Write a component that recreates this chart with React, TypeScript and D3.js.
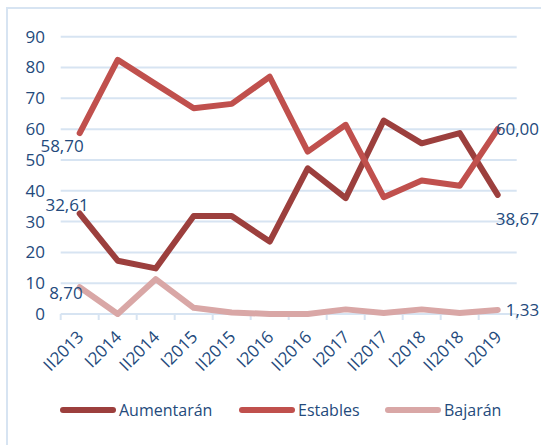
import { useEffect, useRef } from "react"
import * as d3 from "d3"

const categories = ["II2013", "I2014", "II2014", "I2015", "II2015", "I2016", "II2016", "I2017", "II2017", "I2018", "II2018", "I2019"]
const aumentaran = [32.61, 17.3, 14.8, 31.8, 31.8, 23.5, 47.3, 37.6, 62.8, 55.4, 58.7, 38.67]
const estables = [58.7, 82.5, 74.6, 66.8, 68.2, 77.0, 52.7, 61.4, 37.9, 43.3, 41.6, 60.0]
const bajaran = [8.7, 0, 11.3, 2.0, 0.5, 0, 0, 1.5, 0.3, 1.5, 0.3, 1.33]
const yTicks = [0, 10, 20, 30, 40, 50, 60, 70, 80, 90]

const series = [
  { name: "Aumentarán", values: aumentaran, color: "#9c3f3d" },
  { name: "Estables", values: estables, color: "#c0504d" },
  { name: "Bajarán", values: bajaran, color: "#d9a7a6" },
]

const textColor = "#244a7c"
const gridColor = "#d7e4f2"
const font = "'Open Sans', sans-serif"

export default function App() {
  const svgRef = useRef<SVGSVGElement>(null)

  useEffect(() => {
    document.body.style.margin = "0"
    if (!svgRef.current) return
    const svg = d3.select(svgRef.current)
    svg.selectAll("*").remove()

    const left = 60.7
    const right = 516.7
    const top = 36.7
    const bottom = 314

    const x = d3.scaleBand<string>().domain(categories).range([left, right])
    const y = d3.scaleLinear().domain([0, 90]).range([bottom, top])
    const cx = (i: number) => (x(categories[i]) as number) + x.bandwidth() / 2

    svg.append("rect").attr("width", 541).attr("height", 445).attr("fill", "white")

    // chart frame
    svg.append("rect")
      .attr("x", 7).attr("y", 8).attr("width", 700).attr("height", 700)
      .attr("fill", "none").attr("stroke", gridColor).attr("stroke-width", 2)

    // grid
    svg.append("g")
      .selectAll("line")
      .data(yTicks.filter((t) => t > 0))
      .join("line")
      .attr("x1", left).attr("x2", right)
      .attr("y1", (d) => y(d)).attr("y2", (d) => y(d))
      .attr("stroke", gridColor).attr("stroke-width", 2)

    // y labels
    svg.append("g")
      .selectAll("text")
      .data(yTicks)
      .join("text")
      .attr("x", 45).attr("y", (d) => y(d))
      .attr("dy", "0.35em")
      .attr("text-anchor", "end")
      .attr("fill", textColor)
      .style("font-family", font).style("font-size", "17px")
      .text((d) => d)

    // x axis
    const xAxis = svg.append("g")
    xAxis.append("line")
      .attr("x1", left).attr("x2", right).attr("y1", bottom).attr("y2", bottom)
      .attr("stroke", gridColor).attr("stroke-width", 2)
    xAxis.selectAll("line.tick")
      .data(d3.range(categories.length + 1))
      .join("line")
      .attr("class", "tick")
      .attr("x1", (i) => left + i * x.step()).attr("x2", (i) => left + i * x.step())
      .attr("y1", bottom).attr("y2", bottom + 6)
      .attr("stroke", gridColor).attr("stroke-width", 2)
    xAxis.selectAll("text")
      .data(categories)
      .join("text")
      .attr("transform", (d, i) => `translate(${cx(i) + 5},${bottom + 24}) rotate(-45)`)
      .attr("text-anchor", "end")
      .attr("fill", textColor)
      .style("font-family", font).style("font-size", "17px")
      .text((d) => d)

    // lines
    const line = d3.line<number>()
      .x((d, i) => cx(i))
      .y((d) => y(d))

    series.forEach((s) => {
      svg.append("path")
        .datum(s.values)
        .attr("d", line)
        .attr("fill", "none")
        .attr("stroke", s.color)
        .attr("stroke-width", 6)
        .attr("stroke-linejoin", "round")
        .attr("stroke-linecap", "round")
    })

    // data labels on first and last points
    const fmt = (v: number) => v.toFixed(2).replace(".", ",")
    const labels = [
      { s: 0, i: 0, dx: 9, dy: -3, anchor: "end" },
      { s: 1, i: 0, dx: 4, dy: 19, anchor: "end" },
      { s: 2, i: 0, dx: 3, dy: 12, anchor: "end" },
      { s: 0, i: 11, dx: -2, dy: 30, anchor: "start" },
      { s: 1, i: 11, dx: -2, dy: 6, anchor: "start" },
      { s: 2, i: 11, dx: 8, dy: 6, anchor: "start" },
    ]
    svg.append("g")
      .selectAll("text")
      .data(labels)
      .join("text")
      .attr("x", (d) => cx(d.i) + d.dx)
      .attr("y", (d) => y(series[d.s].values[d.i]) + d.dy)
      .attr("text-anchor", (d) => d.anchor)
      .attr("fill", textColor)
      .style("font-family", font).style("font-size", "17px")
      .text((d) => fmt(series[d.s].values[d.i]))

    // legend
    const legendX = [60, 239, 385]
    const lg = svg.append("g")
    series.forEach((s, k) => {
      lg.append("line")
        .attr("x1", legendX[k] + 3).attr("x2", legendX[k] + 53)
        .attr("y1", 410).attr("y2", 410)
        .attr("stroke", s.color).attr("stroke-width", 6).attr("stroke-linecap", "round")
      lg.append("text")
        .attr("x", legendX[k] + 59).attr("y", 410).attr("dy", "0.35em")
        .attr("fill", textColor)
        .style("font-family", font).style("font-size", "16px")
        .text(s.name)
    })
  }, [])

  return (
    <div style={{ position: "absolute", left: 0, top: 0 }}>
      <svg ref={svgRef} width={541} height={445} />
    </div>
  )
}
